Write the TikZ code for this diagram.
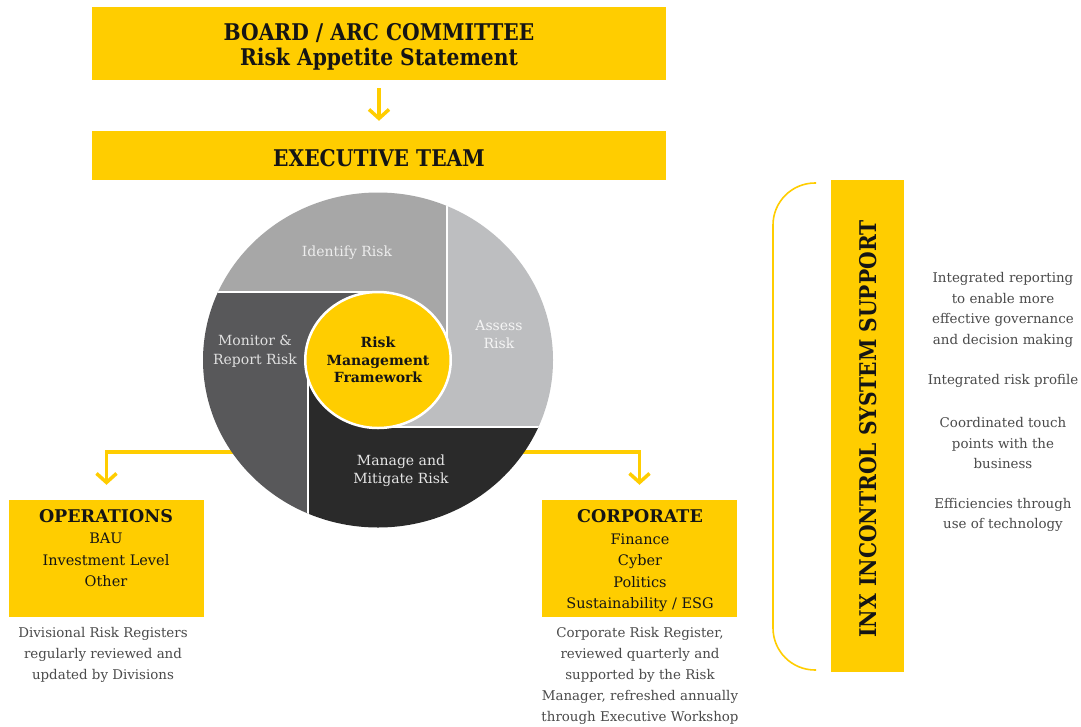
\documentclass[tikz,border=0pt]{standalone}
\usepackage{fontspec}
\setmainfont{DejaVu Serif}
\newfontfamily\headfont[FakeStretch=0.88]{DejaVu Serif}
\usetikzlibrary{arrows.meta,shapes.geometric}
\definecolor{ylw}{HTML}{FFCD00}
\definecolor{gIdent}{HTML}{A7A7A7}
\definecolor{gAssess}{HTML}{BDBEC0}
\definecolor{gMon}{HTML}{58585A}
\definecolor{gMan}{HTML}{2A2A2A}
\definecolor{bodytxt}{HTML}{4A4A4A}
\definecolor{headtxt}{HTML}{151515}
\begin{document}
\begin{tikzpicture}[x=1pt,y=-1pt,
  ybox/.style={fill=ylw, draw=none, inner sep=0pt, align=center, text=headtxt},
  headtext/.style={align=center, text=headtxt, font=\headfont\bfseries\fontsize{23}{25}\selectfont},
  conn/.style={draw=ylw, line width=3.5pt, -{Straight Barb[length=9pt,width=20pt]}},
  sep/.style={draw=white, line width=2.5pt},
  seglabel/.style={align=center, font=\fontsize{14}{18.5}\selectfont},
  boxtext/.style={align=center, text=headtxt, font=\fontsize{14.5}{21.5}\selectfont},
  desc/.style={align=center, text=bodytxt, font=\fontsize{13.4}{21}\selectfont},
  side/.style={align=center, text=bodytxt, font=\fontsize{13.4}{20.7}\selectfont},
  bracket/.style={draw=ylw, line width=1.6pt, rounded corners=42pt}
]
\useasboundingbox[fill=white] (0,0) rectangle (1081,726);

% top boxes
\node[ybox, minimum width=574pt, minimum height=73pt] (board) at (379,43.5) {};
\node[headtext] (boardt) at (379,46.5) {BOARD / ARC COMMITTEE\\Risk Appetite Statement};
\node[ybox, minimum width=574pt, minimum height=49pt] (exec) at (379,155.5) {};
\node[headtext] (exect) at (379,158) {EXECUTIVE TEAM};
\draw[conn, shorten <=8pt, shorten >=10pt] (board) -- (exec);

% lower boxes
\node[ybox, minimum width=195pt, minimum height=117pt] (ops) at (106.5,558.5) {};
\node[ybox, minimum width=195pt, minimum height=117pt] (corp) at (639.5,558.5) {};
\node[boxtext] (opst) at (106,548)
  {{\bfseries\fontsize{17.5}{21}\selectfont OPERATIONS}\\BAU\\Investment Level\\Other};
\node[boxtext] (corpt) at (640,561)
  {{\bfseries\fontsize{17.5}{21}\selectfont CORPORATE}\\Finance\\Cyber\\Politics\\Sustainability / ESG};

% connectors from the wheel
\coordinate (wc) at (378,360);
\coordinate (jl) at (300,452);
\coordinate (jr) at (456,452);
\draw[conn, shorten >=15pt] (jl) -| (ops.north);
\draw[conn, shorten >=15pt] (jr) -| (corp.north);

% wheel
\begin{scope}
  \clip (wc) ellipse [x radius=175pt, y radius=167.5pt];
  \fill[gIdent] (150,150) rectangle (447,292);
  \fill[gIdent] (378,292) rectangle (447,360);
  \fill[gAssess] (447,150) rectangle (600,427);
  \fill[gAssess] (378,360) rectangle (447,427);
  \fill[gMan] (308,427) rectangle (600,600);
  \fill[gMan] (308,360) rectangle (378,427);
  \fill[gMon] (150,292) rectangle (308,600);
  \fill[gMon] (308,292) rectangle (378,360);
  \draw[sep] (150,292) -- (378,292);
  \draw[sep] (447,150) -- (447,360);
  \draw[sep] (600,427) -- (378,427);
  \draw[sep] (308,600) -- (308,360);
\end{scope}
\node[ellipse, fill=ylw, draw=white, line width=2.5pt, inner sep=0pt,
      minimum width=140pt, minimum height=136pt, align=center, text=headtxt,
      font=\bfseries\fontsize{14}{17.5}\selectfont] (rmf) at (wc)
  {Risk\\Management\\Framework};

\node[seglabel, text=white!93!black] (ident) at (347,253) {Identify Risk};
\node[seglabel, text=white!96!black] (assess) at (499,334.5) {Assess\\Risk};
\node[seglabel, text=white!88!black] (monitor) at (255,351.5) {Monitor \&\\Report Risk};
\node[seglabel, text=white!90!black] (manage) at (401,470.5) {Manage and\\Mitigate Risk};

% descriptions
\node[desc] (opsd) at (103,655)
  {Divisional Risk Registers\\regularly reviewed and\\updated by Divisions};
\node[desc] (corpd) at (640,675.5)
  {Corporate Risk Register,\\reviewed quarterly and\\supported by the Risk\\Manager, refreshed annually\\through Executive Workshop};

% right side
\draw[bracket] (816,183) -- (773,183) -- (773,670) -- (816,670);
\node[ybox, minimum width=73pt, minimum height=492pt] (bar) at (867.5,426) {};
\node[rotate=90, text=headtxt, font=\headfont\bfseries\fontsize{23}{25}\selectfont] (bart) at (868,429)
  {INX INCONTROL SYSTEM SUPPORT};
\node[side] (s1) at (1003,310)
  {Integrated reporting\\to enable more\\effective governance\\and decision making};
\node[side] (s2) at (1003,381) {Integrated risk profile};
\node[side] (s3) at (1003,443) {Coordinated touch\\points with the\\business};
\node[side] (s4) at (1003,515) {Efficiencies through\\use of technology};
\end{tikzpicture}
\end{document}
